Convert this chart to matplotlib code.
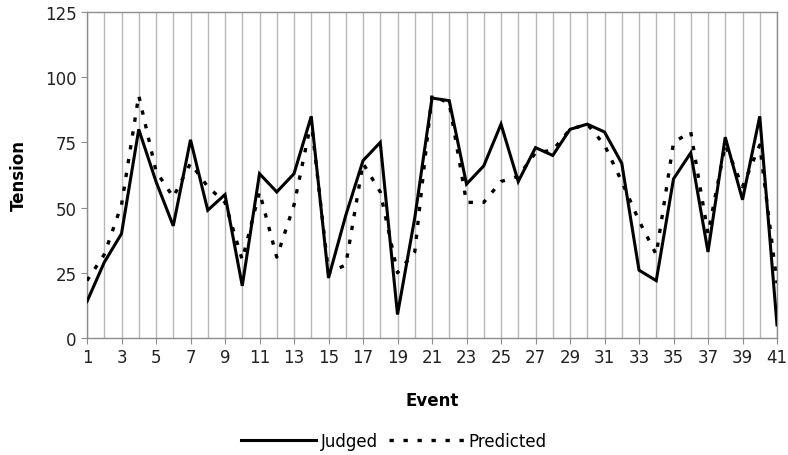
import numpy as np
import matplotlib
matplotlib.use('Agg')
import matplotlib.pyplot as plt

# valeurs
events = np.arange(1, 42)
judged = [14, 29, 40, 80, 60, 43, 76, 49, 55, 20,
          63, 56, 63, 85, 23, 47, 68, 75, 9, 46,
          92, 91, 59, 66, 82, 60, 73, 70, 80, 82,
          79, 67, 26, 22, 61, 71, 33, 77, 53, 85, 5]
predicted = [22, 32, 51, 93, 64, 54, 67, 58, 52, 30,
             56, 31, 51, 83, 25, 28, 67, 56, 25, 33,
             93, 90, 52, 52, 60, 62, 71, 72, 80, 82,
             74, 60, 45, 32, 75, 79, 40, 74, 58, 74, 21]
yticks = [0, 25, 50, 75, 100, 125]


def main():
    plt.rcParams['font.family'] = ['DejaVu Sans']
    fig = plt.figure(figsize=(7.88, 4.56), dpi=100)
    ax = fig.add_axes([87 / 788, 1 - 339 / 456, 690 / 788, 326 / 456])

    ax.plot(events, judged, color='black', linewidth=2.2, label='Judged',
            solid_joinstyle='miter', zorder=3)
    ax.plot(events, predicted, color='black', linewidth=2.4,
            linestyle=(0, (1.3, 2.9)), label='Predicted', zorder=3)

    ax.set_xlim(1, 41)
    ax.set_ylim(0, 125)
    ax.set_yticks(yticks)
    ax.set_xticks(events[::2])
    ax.set_xticks(events, minor=True)
    ax.grid(True, which='both', axis='x', color='#b8b8b8', linewidth=1.0)
    ax.set_axisbelow(True)

    for s in ax.spines.values():
        s.set_color('#8c8c8c')
        s.set_linewidth(1.0)
    ax.tick_params(axis='both', which='both', colors='#8c8c8c', length=4,
                   labelsize=12, labelcolor='#222222')
    ax.tick_params(axis='x', which='minor', length=0)

    ax.set_xlabel('Event', fontsize=12, fontweight='bold', labelpad=18)
    ax.set_ylabel('Tension', fontsize=12, fontweight='bold', labelpad=12)

    fig.legend(loc='center', bbox_to_anchor=(0.5, 0.03), ncol=2,
               frameon=False, fontsize=12, handlelength=4.5,
               columnspacing=0.6, handletextpad=0.3)

    fig.savefig('out.png', dpi=100)


if __name__ == "__main__":
    main()
